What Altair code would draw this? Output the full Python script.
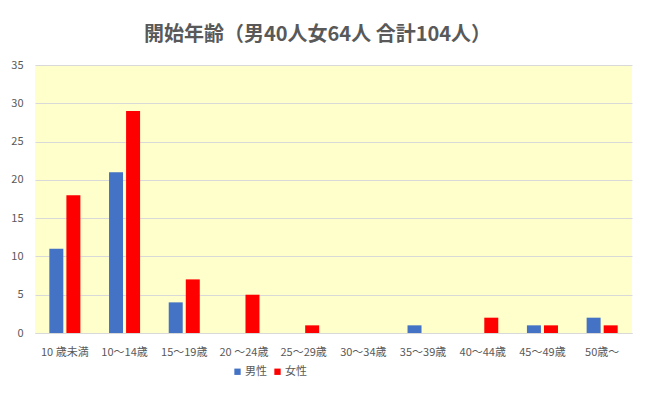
import altair as alt
import pandas as pd

categories = ["10 歳未満", "10～14歳", "15～19歳", "20 ～24歳", "25～29歳",
              "30～34歳", "35～39歳", "40～44歳", "45～49歳", "50歳～"]
male = [11, 21, 4, 0, 0, 0, 1, 0, 1, 2]
female = [18, 29, 7, 5, 1, 0, 0, 2, 1, 1]
series = ["男性", "女性"]
colors = ["#4472C4", "#FF0000"]
y_ticks = [0, 5, 10, 15, 20, 25, 30, 35]

rows = []
for c, m, f in zip(categories, male, female):
    rows.append({"cat": c, "series": series[0], "value": m})
    rows.append({"cat": c, "series": series[1], "value": f})
df = pd.DataFrame(rows)

font = "Noto Sans CJK JP"

chart = alt.Chart(df).mark_bar().encode(
    x=alt.X("cat:N", sort=categories, title=None,
            scale=alt.Scale(paddingInner=0.48, paddingOuter=0.24),
            axis=alt.Axis(labelAngle=0, domain=True, domainColor="#D9D9D9",
                          ticks=False, labelPadding=13, labelFontSize=11,
                          labelColor="#595959", labelFont=font)),
    xOffset=alt.XOffset("series:N", sort=series,
                        scale=alt.Scale(paddingInner=0.18)),
    y=alt.Y("value:Q", title=None,
            scale=alt.Scale(domain=[0, 35], nice=False),
            axis=alt.Axis(values=y_ticks, domain=False, ticks=False,
                          gridColor="#D9D9D9", labelPadding=12,
                          labelFontSize=11, labelColor="#595959",
                          labelFont=font)),
    color=alt.Color("series:N", sort=series,
                    scale=alt.Scale(domain=series, range=colors),
                    legend=alt.Legend(orient="none", direction="horizontal",
                                      legendX=197, legendY=301, title=None,
                                      symbolType="square", symbolSize=40,
                                      labelOffset=2,
                                      labelFontSize=11, labelColor="#595959",
                                      labelFont=font, columnPadding=5,
                                      symbolStrokeWidth=0)),
).properties(
    width=597,
    height=268,
    background="white",
    title=alt.TitleParams("開始年齢（男40人女64人 合計104人）", fontSize=20,
                          font=font, fontWeight="bold", color="#595959",
                          anchor="middle", dx=-16, offset=14),
    autosize=alt.AutoSizeParams(type="none"),
    padding={"left": 27, "top": 57, "right": 9, "bottom": 53},
).configure_view(
    fill="#FFFFCC", stroke=None
)

chart.save("out.html", embed_options={"renderer": "svg", "actions": False})
